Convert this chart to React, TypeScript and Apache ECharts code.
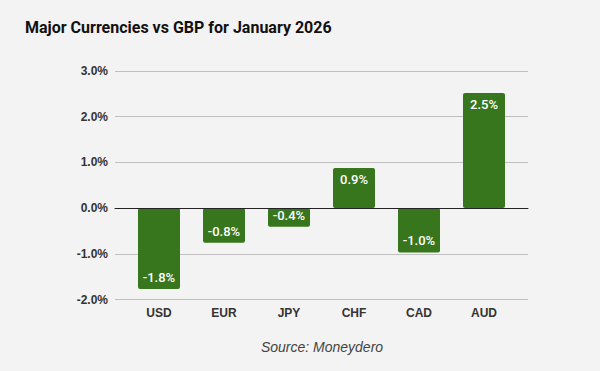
import React, { useEffect, useRef } from "react";
import * as echarts from "echarts";

const categories = ["USD", "EUR", "JPY", "CHF", "CAD", "AUD"];
const changes = [-1.77, -0.76, -0.41, 0.88, -0.97, 2.52];
const yMin = -2;
const yMax = 3;
const yStep = 1;
const titleText = "Major Currencies vs GBP for January 2026";
const sourceText = "Source: Moneydero";

export default function App() {
  const ref = useRef<HTMLDivElement>(null);
  useEffect(() => {
    document.body.style.margin = "0";
    const chart = echarts.init(ref.current!, null, { renderer: "svg" });
    const axisFont = "'Liberation Sans', Arial, sans-serif";
    chart.setOption({
      animation: false,
      backgroundColor: "#f3f3f3",
      title: {
        text: titleText,
        left: 25,
        top: 19,
        padding: 0,
        textStyle: { fontFamily: "Roboto", fontWeight: "bold", fontSize: 16, color: "#111" },
      },
      graphic: [
        {
          type: "text",
          x: 322,
          y: 347,
          style: {
            text: sourceText,
            fontFamily: axisFont,
            fontStyle: "italic",
            fontSize: 14,
            fill: "#444",
            textAlign: "center",
            textVerticalAlign: "middle",
          },
        },
      ],
      grid: [
        { left: 115, right: 72, top: 71, bottom: 71.5 },
        { left: 126.5, right: 83.5, top: 71, bottom: 71.5 },
      ],
      xAxis: [
        {
          gridIndex: 0,
          type: "category",
          data: categories,
          z: 5,
          axisLine: { show: true, onZero: true, lineStyle: { color: "#222", width: 1 } },
          axisTick: { show: false },
          axisLabel: { show: false },
          splitLine: { show: false },
        },
        {
          gridIndex: 1,
          type: "category",
          data: categories,
          axisLine: { show: false, onZero: false },
          axisTick: { show: false },
          axisLabel: {
            fontFamily: axisFont,
            fontWeight: "bold",
            fontSize: 12,
            color: "#333",
            margin: 7,
          },
        },
      ],
      yAxis: [
        {
          gridIndex: 0,
          type: "value",
          min: yMin,
          max: yMax,
          interval: yStep,
          axisLine: { show: false },
          axisTick: { show: false },
          axisLabel: {
            fontFamily: axisFont,
            fontWeight: "bold",
            fontSize: 12,
            color: "#333",
            margin: 7,
            formatter: (v: number) => v.toFixed(1) + "%",
          },
          splitLine: { lineStyle: { color: "#c0c0c0", width: 1 } },
        },
        {
          gridIndex: 1,
          type: "value",
          min: yMin,
          max: yMax,
          interval: yStep,
          show: false,
        },
      ],
      series: [
        {
          type: "bar",
          xAxisIndex: 1,
          yAxisIndex: 1,
          barWidth: 42,
          itemStyle: { color: "#38761d", borderRadius: 2 },
          label: {
            show: true,
            color: "#fff",
            fontFamily: "Roboto",
            fontWeight: 500,
            fontSize: 13,
            distance: 5,
            formatter: (p: any) => p.value.toFixed(1) + "%",
          },
          data: changes.map((v) => ({
            value: v,
            label: { position: v >= 0 ? "insideTop" : "insideBottom" },
          })),
        },
      ],
    });
    return () => chart.dispose();
  }, []);
  return <div ref={ref} style={{ width: 600, height: 371 }} />;
}
